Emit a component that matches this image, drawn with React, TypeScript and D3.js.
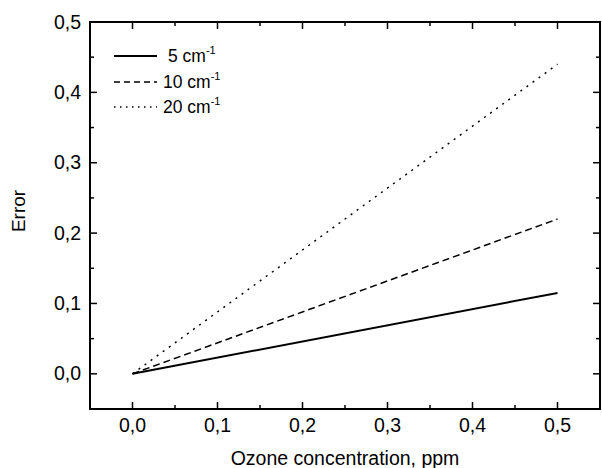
import React from "react";
import * as d3 from "d3";

const xValues = [0, 0.5];
const series5 = [0, 0.115];
const series10 = [0, 0.22];
const series20 = [0, 0.44];
const seriesNames = ["5", "10", "20"];
const xTicks = [0, 0.1, 0.2, 0.3, 0.4, 0.5];
const yTicks = [0, 0.1, 0.2, 0.3, 0.4, 0.5];

const W = 602, H = 468;
const L = 90, R = 600, T = 22, B = 409;
const FONT = "Arial, 'Liberation Sans', sans-serif";

export default function App() {
  const x = d3.scaleLinear().domain([-0.05, 0.55]).range([L, R]);
  const y = d3.scaleLinear().domain([-0.05, 0.5]).range([B, T]);
  const fmt = (v: number) => d3.format(".1f")(v).replace(".", ",");
  const allSeries = [series5, series10, series20];
  const dashes = ["none", "7,4", "2,5.5"];
  const line = (vals: number[]) =>
    d3.line<number>().x((_, i) => x(xValues[i])).y((v) => y(v))(vals) || "";

  const xMinor = d3.range(-0.05, 0.551, 0.05).map((v) => +v.toFixed(2)).filter((v) => v > -0.05 && v < 0.55);
  const yMinor = d3.range(-0.05, 0.501, 0.05).map((v) => +v.toFixed(2)).filter((v) => v > -0.05 && v < 0.5);
  const isMajor = (v: number) => Math.abs(Math.round(v * 10) - v * 10) < 1e-6;

  const legendRows = [56, 82, 107];
  const legendTextX = [168, 163, 163];

  return (
    <svg width={W} height={H} style={{ position: "absolute", left: 0, top: 0, background: "#fff" }}
      fontFamily={FONT}>
      <rect x={0} y={0} width={W} height={H} fill="#fff" />
      {allSeries.map((s, i) => (
        <path key={i} d={line(s)} fill="none" stroke="#000" strokeWidth={i === 0 ? 2 : 1.5}
          strokeDasharray={dashes[i]} />
      ))}
      <rect x={L} y={T} width={R - L} height={B - T} fill="none" stroke="#000" strokeWidth={2} />
      {xMinor.map((v) => {
        const len = isMajor(v) ? 7 : 4;
        return (
          <g key={"x" + v}>
            <line x1={x(v)} x2={x(v)} y1={B} y2={B - len} stroke="#000" strokeWidth={1.5} />
            <line x1={x(v)} x2={x(v)} y1={T} y2={T + len} stroke="#000" strokeWidth={1.5} />
          </g>
        );
      })}
      {yMinor.map((v) => {
        const len = isMajor(v) ? 7 : 4;
        return (
          <g key={"y" + v}>
            <line x1={L} x2={L + len} y1={y(v)} y2={y(v)} stroke="#000" strokeWidth={1.5} />
            <line x1={R} x2={R - len} y1={y(v)} y2={y(v)} stroke="#000" strokeWidth={1.5} />
          </g>
        );
      })}
      {xTicks.map((v) => (
        <text key={"xl" + v} x={x(v)} y={432} textAnchor="middle" fontSize={19.5} fill="#000">{fmt(v)}</text>
      ))}
      {yTicks.map((v) => (
        <text key={"yl" + v} x={81} y={y(v) + 6.5} textAnchor="end" fontSize={19.5} fill="#000">{fmt(v)}</text>
      ))}
      <text x={(L + R) / 2} y={465} textAnchor="middle" fontSize={19.5} fill="#000">Ozone concentration, ppm</text>
      <text transform={`translate(25,211) rotate(-90)`} textAnchor="middle" fontSize={19} fill="#000">Error</text>
      {seriesNames.map((n, i) => (
        <g key={"lg" + n}>
          <line x1={114} x2={157} y1={legendRows[i]} y2={legendRows[i]} stroke="#000"
            strokeWidth={i === 0 ? 2 : 1.5} strokeDasharray={i === 0 ? "none" : i === 1 ? "6,4" : "1.5,4.5"} />
          <text x={legendTextX[i]} y={legendRows[i] + 6} fontSize={17.5} fill="#000">
            {n} cm<tspan fontSize={11} dy={-8}>-1</tspan>
          </text>
        </g>
      ))}
    </svg>
  );
}
